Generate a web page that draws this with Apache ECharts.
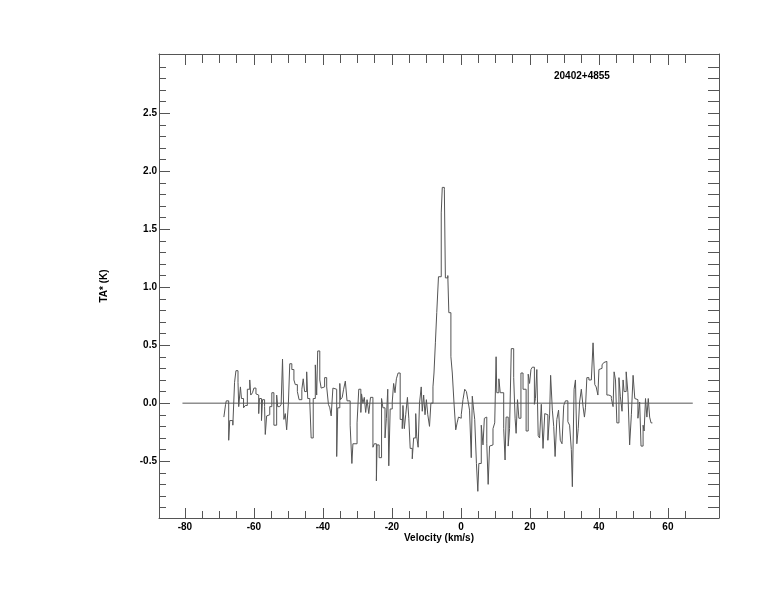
<!DOCTYPE html>
<html>
<head>
<meta charset="utf-8">
<script src="https://cdn.jsdelivr.net/npm/echarts@6/dist/echarts.min.js"></script>
<style>
html,body{margin:0;padding:0;background:#fff;}
#chart{width:774px;height:612px;}
</style>
</head>
<body>
<div id="chart"></div>
<script>
// Channel left edges (km/s) and antenna temperature TA* (K)
const velocity = [-68.7,-68.2,-68.0,-67.3,-67.0,-66.1,-65.6,-65.2,-64.6,-64.4,-63.9,-63.6,-63.0,-62.5,-61.9,-61.2,-60.9,-60.4,-60.0,-59.4,-59.1,-58.6,-58.4,-57.8,-57.5,-56.9,-56.7,-56.3,-55.9,-55.4,-54.8,-54.2,-53.4,-53.1,-52.5,-52.1,-51.7,-51.3,-50.9,-50.5,-50.0,-49.6,-49.0,-48.4,-48.0,-47.4,-46.9,-46.1,-45.7,-45.3,-44.7,-44.4,-43.8,-43.4,-42.8,-42.2,-41.8,-41.5,-40.9,-40.5,-40.0,-39.5,-38.9,-38.4,-38.0,-37.6,-37.1,-36.6,-36.0,-35.7,-35.1,-34.9,-34.4,-34.0,-33.5,-33.0,-32.1,-31.6,-31.3,-30.1,-29.6,-29.0,-28.8,-28.4,-28.0,-27.6,-27.2,-26.7,-26.2,-25.5,-25.1,-24.5,-24.3,-23.7,-23.0,-22.6,-22.0,-21.6,-21.2,-20.9,-20.5,-19.9,-19.5,-19.1,-18.7,-18.2,-17.6,-17.0,-16.8,-16.4,-16.0,-15.5,-15.1,-14.7,-14.1,-13.7,-13.1,-12.8,-12.4,-12.0,-11.5,-11.2,-10.8,-10.4,-10.0,-9.6,-9.1,-8.7,-8.1,-7.8,-7.4,-7.0,-6.5,-5.7,-5.4,-4.8,-4.5,-3.8,-3.5,-2.9,-2.5,-2.0,-1.5,-1.1,-0.7,-0.4,0.1,0.6,1.1,1.6,2.0,2.5,3.0,3.3,3.7,4.0,4.5,4.9,5.2,5.9,6.4,6.8,7.2,7.5,7.9,8.3,8.8,9.3,9.8,10.2,10.4,11.0,11.4,12.4,12.8,13.1,13.7,14.1,14.6,15.3,15.7,16.0,16.4,16.8,17.4,18.0,18.9,19.5,19.9,20.3,20.7,21.3,21.6,22.0,22.4,22.8,23.3,23.8,24.3,24.7,25.2,25.7,26.0,26.5,26.9,27.3,27.8,28.3,28.8,29.3,29.8,30.3,31.0,31.5,32.0,32.3,32.8,33.2,33.6,34.0,34.4,34.9,35.4,35.8,36.1,36.5,37.1,37.8,38.3,38.8,39.2,39.7,40.0,40.5,40.9,41.4,41.7,42.3,42.9,43.6,44.1,44.4,44.8,45.2,45.8,46.2,46.7,47.0,47.3,47.9,48.4,48.9,49.4,49.9,50.4,50.8,51.3,51.8,52.2,52.8,53.1,53.5,53.9,54.3,54.7,55.1];
const ta = [-0.12,-0.01,0.02,-0.32,-0.15,-0.19,0.18,0.28,0.18,-0.03,0.14,0.04,-0.04,-0.02,0.12,0.20,0.07,0.09,0.13,0.08,0.07,-0.09,0.04,-0.15,0.03,-0.03,-0.27,-0.11,-0.10,-0.03,0.09,-0.19,0.07,-0.03,-0.04,-0.01,0.38,-0.14,-0.09,-0.23,0.00,0.34,0.29,0.20,0.16,0.10,0.03,0.12,0.21,0.10,0.27,0.04,0.01,-0.30,0.04,0.33,0.07,0.45,0.20,0.13,0.14,0.22,0.14,-0.01,-0.04,-0.11,0.13,0.12,-0.46,-0.04,0.17,0.03,0.05,0.12,0.19,0.02,-0.19,-0.52,-0.35,-0.17,0.12,-0.08,0.08,0.00,0.05,-0.08,0.03,-0.09,0.05,-0.38,-0.35,-0.67,-0.36,-0.47,0.04,-0.04,-0.30,-0.13,0.12,-0.54,-0.05,0.01,0.17,0.09,0.21,0.26,-0.14,-0.22,-0.02,-0.22,-0.10,0.05,-0.13,-0.39,-0.48,-0.30,-0.09,-0.29,-0.38,0.00,0.14,-0.07,0.07,-0.10,0.03,-0.10,-0.20,0.00,0.14,0.26,0.52,0.78,1.09,1.64,1.86,1.84,1.08,1.10,0.78,0.40,0.26,0.00,-0.23,-0.17,-0.12,-0.13,-0.10,0.03,0.12,0.10,0.03,-0.06,-0.47,0.06,-0.06,-0.14,-0.52,-0.76,-0.52,-0.19,-0.36,-0.13,-0.12,-0.35,-0.70,-0.37,-0.36,-0.22,-0.17,0.40,0.09,0.21,0.09,-0.22,-0.49,-0.12,-0.37,-0.22,0.47,0.22,-0.13,-0.26,0.03,-0.13,0.26,0.12,-0.24,0.25,0.17,0.29,0.31,-0.01,0.04,0.29,-0.28,-0.30,-0.01,-0.39,-0.09,-0.10,-0.32,-0.11,0.24,-0.06,-0.20,-0.46,-0.14,-0.06,-0.32,-0.35,-0.02,0.02,-0.16,-0.19,-0.40,-0.72,0.12,0.20,-0.35,-0.22,0.01,0.12,-0.03,-0.12,-0.04,0.22,0.20,0.19,0.52,0.16,0.14,0.07,0.29,0.30,0.33,0.35,0.36,0.07,0.06,0.04,-0.03,0.27,0.20,-0.17,0.22,0.06,-0.07,0.20,0.10,0.27,0.09,-0.36,-0.10,0.24,0.04,0.03,-0.13,0.01,-0.37,-0.19,-0.24,0.04,-0.12,0.04,-0.12,-0.17];
const velocityEnd = 55.5;
const baselineRange = [-80.7, 67.2];

const xMajorTicks = [-80,-60,-40,-20,0,20,40,60];
const xMinorTicks = [-75,-70,-65,-55,-50,-45,-35,-30,-25,-15,-10,-5,5,10,15,25,30,35,45,50,55,65];
const yMajorTicks = [-0.5,0,0.5,1,1.5,2,2.5];
const yMinorTicks = [-0.9,-0.8,-0.7,-0.6,-0.4,-0.3,-0.2,-0.1,0.1,0.2,0.3,0.4,0.6,0.7,0.8,0.9,1.1,1.2,1.3,1.4,1.6,1.7,1.8,1.9,2.1,2.2,2.3,2.4,2.6,2.7,2.8,2.9];

const title = '20402+4855';
const xTitle = 'Velocity (km/s)';
const yTitle = 'TA* (K)';

const LINE = '#555';
const FONT = 'Liberation Sans, Arial, Helvetica, sans-serif';
const txt = {color:'#000', fontFamily:FONT, fontWeight:'bold', fontSize:10};

const spectrum = velocity.map((v,i)=>[v, ta[i]]);
spectrum.push([velocityEnd, ta[ta.length-1]]);

function xAxisDef(pos, ticks, len, showLine, labels){
  return {
    type:'value', position:pos, min:-87.5, max:74.8,
    axisLine:{show:showLine, onZero:false, lineStyle:{color:LINE, width:1}},
    axisTick:{show:true, inside:true, length:len, customValues:ticks, lineStyle:{color:LINE, width:1}},
    axisLabel: labels ? Object.assign({show:true, customValues:ticks, margin:4,
      formatter:v=>String(Math.round(v))}, txt) : {show:false},
    splitLine:{show:false}, minorTick:{show:false}
  };
}
function yAxisDef(pos, ticks, len, showLine, labels){
  return {
    type:'value', position:pos, min:-0.99, max:3.01,
    axisLine:{show:showLine, onZero:false, lineStyle:{color:LINE, width:1}},
    axisTick:{show:true, inside:true, length:len, customValues:ticks, lineStyle:{color:LINE, width:1}},
    axisLabel: labels ? Object.assign({show:true, customValues:ticks, margin:2,
      formatter:v=>v.toFixed(1)}, txt) : {show:false},
    splitLine:{show:false}, minorTick:{show:false}
  };
}

const xAxes = [
  xAxisDef('bottom', xMajorTicks, 10, true, true),
  xAxisDef('bottom', xMinorTicks, 7, false, false),
  xAxisDef('top', xMajorTicks, 11, true, false),
  xAxisDef('top', xMinorTicks, 9, false, false)
];
Object.assign(xAxes[0], {name:xTitle, nameLocation:'middle', nameGap:15, nameMoveOverlap:false, nameTextStyle:Object.assign({}, txt)});
const yAxes = [
  yAxisDef('left', yMajorTicks, 11, true, true),
  yAxisDef('left', yMinorTicks, 7, false, false),
  yAxisDef('right', yMajorTicks, 11, true, false),
  yAxisDef('right', yMinorTicks, 11, false, false)
];
Object.assign(yAxes[0], {name:yTitle, nameLocation:'middle', nameGap:50, nameMoveOverlap:false, nameTextStyle:Object.assign({}, txt)});

const chart = echarts.init(document.getElementById('chart'), null, {renderer:'canvas'});
chart.setOption({
  animation:false,
  backgroundColor:'#fff',
  title:{text:title, left:554, top:71, padding:0, textStyle:Object.assign({}, txt)},
  grid:{left:159, right:55, top:54, bottom:94, containLabel:false},
  xAxis:xAxes,
  yAxis:yAxes,
  series:[
    {type:'line', xAxisIndex:0, yAxisIndex:0, data:baselineRange.map(v=>[v,0]),
     symbol:'none', lineStyle:{color:LINE, width:1}, silent:true},
    {type:'line', xAxisIndex:0, yAxisIndex:0, data:spectrum, step:'end',
     symbol:'none', lineStyle:{color:LINE, width:1}, silent:true}
  ]
});
</script>
</body>
</html>
